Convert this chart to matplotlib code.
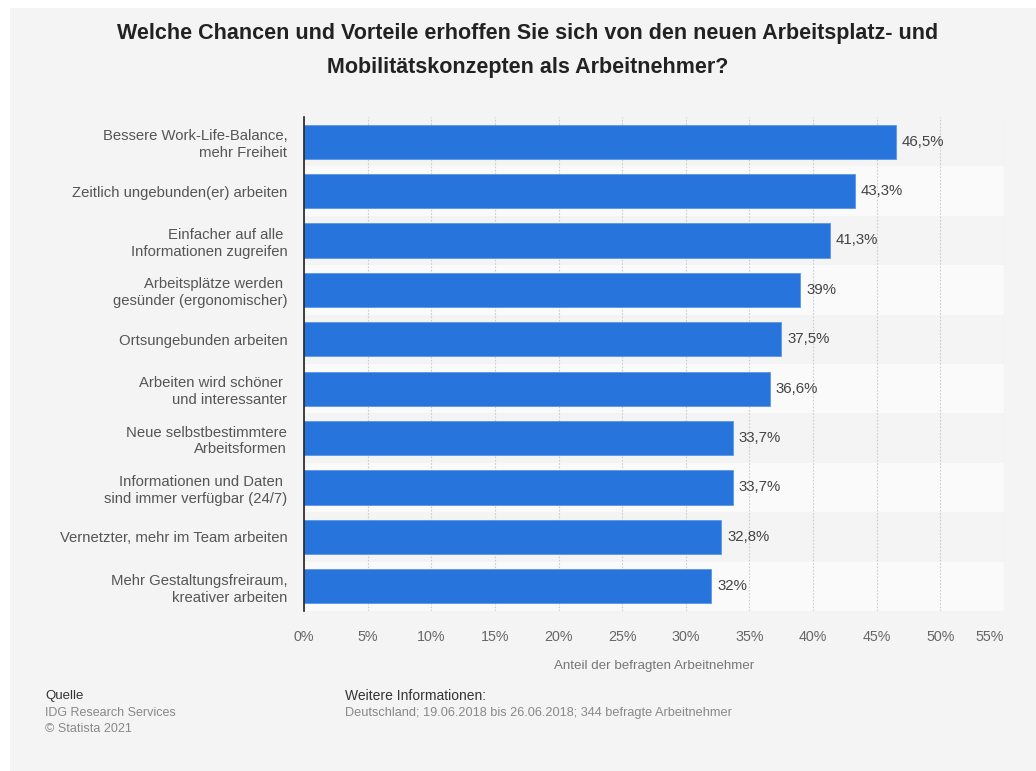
import matplotlib.pyplot as plt
from matplotlib.patches import Rectangle

plt.rcParams['font.family'] = ['Liberation Sans', 'DejaVu Sans']

# survey answers, top to bottom
categories = [
    "Bessere Work-Life-Balance,\nmehr Freiheit",
    "Zeitlich ungebunden(er) arbeiten",
    "Einfacher auf alle \nInformationen zugreifen",
    "Arbeitsplätze werden \ngesünder (ergonomischer)",
    "Ortsungebunden arbeiten",
    "Arbeiten wird schöner \nund interessanter",
    "Neue selbstbestimmtere\nArbeitsformen",
    "Informationen und Daten \nsind immer verfügbar (24/7)",
    "Vernetzter, mehr im Team arbeiten",
    "Mehr Gestaltungsfreiraum,\nkreativer arbeiten",
]
values = [46.5, 43.3, 41.3, 39.0, 37.5, 36.6, 33.7, 33.7, 32.8, 32.0]
value_labels = ["46,5%", "43,3%", "41,3%", "39%", "37,5%", "36,6%",
                "33,7%", "33,7%", "32,8%", "32%"]
xticks = list(range(0, 60, 5))
xtick_labels = [f"{t}%" for t in xticks]

BG = "#f4f4f4"
STRIPE = "#fafafa"
BLUE = "#2775dc"

fig = plt.figure(figsize=(10.36, 7.71), dpi=100)
fig.patch.set_facecolor("white")
fig.patches.append(Rectangle((10 / 1036, 0), 1, 1 - 8 / 771,
                             transform=fig.transFigure, facecolor=BG,
                             edgecolor="none", zorder=-10))

ax = fig.add_axes([304 / 1036, 1 - 611 / 771, 700 / 1036, 494 / 771])
ax.set_facecolor(BG)

n = len(categories)
ypos = list(range(n))
for i in ypos:
    if i % 2 == 1:
        ax.axhspan(i - 0.5, i + 0.5, color=STRIPE, zorder=0, lw=0)

ax.barh(ypos, values, height=0.69, color=BLUE, edgecolor="#5b97e6",
        linewidth=0.6, zorder=3)
for y, v, lab in zip(ypos, values, value_labels):
    ax.text(v + 0.45, y, lab, va="center", ha="left", fontsize=10.8,
            color="#444444", zorder=4)

ax.set_ylim(n - 0.5, -0.5)
ax.set_xlim(0, 55)
ax.set_yticks(ypos)
ax.set_yticklabels(categories, fontsize=10.7, color="#555555", linespacing=1.25)
ax.set_xticks(xticks)
ax.set_xticklabels(xtick_labels, fontsize=10.3, color="#666666")
ax.get_xticklabels()[-1].set_horizontalalignment("right")
ax.tick_params(axis="both", length=0)
ax.tick_params(axis="x", pad=14)
ax.tick_params(axis="y", pad=12)

ax.grid(axis="x", linestyle=(0, (1.5, 1.5)), color="#cccccc", lw=0.8, zorder=1)
ax.set_axisbelow(True)
for side in ["top", "right", "bottom"]:
    ax.spines[side].set_visible(False)
ax.spines["left"].set_color("#222222")
ax.spines["left"].set_linewidth(1.2)
ax.spines["left"].set_zorder(5)

ax.set_xlabel("Anteil der befragten Arbeitnehmer", fontsize=9.6,
              color="#777777", labelpad=11)

fig.text(528 / 1036, 1 - 33 / 771,
         "Welche Chancen und Vorteile erhoffen Sie sich von den neuen Arbeitsplatz- und",
         ha="center", va="center", fontsize=15.5, fontweight="bold", color="#222222")
fig.text(528 / 1036, 1 - 67 / 771,
         "Mobilitätskonzepten als Arbeitnehmer?",
         ha="center", va="center", fontsize=15.5, fontweight="bold", color="#222222")

# source and survey details
fig.text(45 / 1036, 1 - 696 / 771, "Quelle", fontsize=9.5, color="#333333", va="center")
fig.text(45 / 1036, 1 - 713 / 771, "IDG Research Services", fontsize=9,
         color="#888888", va="center")
fig.text(45 / 1036, 1 - 729 / 771, "© Statista 2021", fontsize=9,
         color="#888888", va="center")
fig.text(345 / 1036, 1 - 696 / 771, "Weitere Informationen:", fontsize=10,
         color="#333333", va="center")
fig.text(345 / 1036, 1 - 713 / 771,
         "Deutschland; 19.06.2018 bis 26.06.2018; 344 befragte Arbeitnehmer",
         fontsize=9.2, color="#888888", va="center")

fig.savefig("out.png", dpi=100, facecolor=fig.get_facecolor())
